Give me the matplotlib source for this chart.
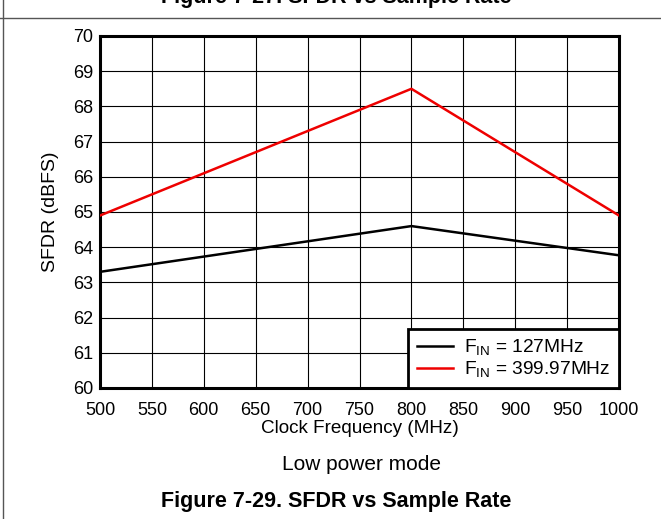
import matplotlib
matplotlib.use("Agg")
import matplotlib.pyplot as plt
from matplotlib.lines import Line2D

plt.rcParams['font.family'] = ['Liberation Sans', 'DejaVu Sans']
plt.rcParams['mathtext.fontset'] = 'custom'
plt.rcParams['mathtext.rm'] = 'Liberation Sans'
plt.rcParams['mathtext.it'] = 'Liberation Sans'

clock_mhz = [500, 800, 1000]
sfdr_127 = [63.3, 64.6, 63.77]
sfdr_400 = [64.9, 68.5, 64.9]
labels = [r"F$_{\mathrm{IN}}$ = 127MHz", r"F$_{\mathrm{IN}}$ = 399.97MHz"]
xticks = list(range(500, 1001, 50))
yticks = list(range(60, 71, 1))

fig = plt.figure(figsize=(6.61, 5.19), dpi=100)
ax = fig.add_axes([100/661, 1-388/519, (619-100)/661, (388-36)/519])

ax.plot(clock_mhz, sfdr_127, color='black', lw=1.8, label=labels[0], zorder=3)
ax.plot(clock_mhz, sfdr_400, color='#ee0000', lw=1.8, label=labels[1], zorder=3)

ax.set_xlim(500, 1000)
ax.set_ylim(60, 70)
ax.set_xticks(xticks)
ax.set_yticks(yticks)
ax.tick_params(axis='x', length=0, labelsize=13, pad=10)
ax.tick_params(axis='y', length=0, labelsize=13, pad=5)
ax.grid(True, color='black', lw=0.8)
for s in ax.spines.values():
    s.set_linewidth(2.2)
ax.set_xlabel("Clock Frequency (MHz)", fontsize=13.6, labelpad=1)
ax.set_ylabel("SFDR (dBFS)", fontsize=14, labelpad=10)

leg = ax.legend(loc='lower right', fontsize=13.8, frameon=True, fancybox=False,
                borderaxespad=0, handlelength=1.9, handletextpad=0.55,
                labelspacing=0.1, borderpad=0.45)
leg.get_frame().set_edgecolor('black')
leg.get_frame().set_linewidth(2)
leg.get_frame().set_alpha(1)

fig.text(361/661, 1-465/519, "Low power mode", ha='center', va='center', fontsize=15)
fig.text(336/661, 1-502/519, "Figure 7-29. SFDR vs Sample Rate", ha='center', va='center',
         fontsize=15.5, fontweight='bold')
fig.text(336/661, 1+2/519, "Figure 7-27. SFDR vs Sample Rate", ha='center', va='center',
         fontsize=15.5, fontweight='bold')

fig.add_artist(Line2D([0, 1], [1-18/519, 1-18/519], transform=fig.transFigure, color='#555555', lw=1))
fig.add_artist(Line2D([3/661, 3/661], [0, 1], transform=fig.transFigure, color='#555555', lw=1))

fig.savefig("out.png", dpi=100)
